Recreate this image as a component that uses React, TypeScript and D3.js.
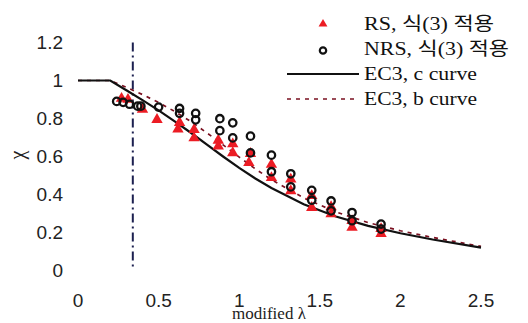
import React from "react";
import * as d3 from "d3";

// ---- data ----
const xTicks = [0, 0.5, 1, 1.5, 2, 2.5];
const xTickLabels = ["0", "0.5", "1", "1.5", "2", "2.5"];
const yTicks = [0, 0.2, 0.4, 0.6, 0.8, 1, 1.2];
const yTickLabels = ["0", "0.2", "0.4", "0.6", "0.8", "1", "1.2"];

const cCurveLambda = [0, 0.2, 0.3, 0.4, 0.5, 0.6, 0.7, 0.8, 0.9, 1.0, 1.1, 1.2, 1.4, 1.6, 1.8, 2.0, 2.2, 2.5];
const cCurveChi = [1, 1, 0.949, 0.897, 0.843, 0.785, 0.725, 0.662, 0.6, 0.54, 0.484, 0.434, 0.349, 0.284, 0.235, 0.196, 0.163, 0.12];

const bCurveLambda = [0, 0.2, 0.3, 0.4, 0.5, 0.6, 0.7, 0.8, 0.9, 1.0, 1.1, 1.2, 1.4, 1.6, 1.8, 2.0, 2.2, 2.5];
const bCurveChi = [1, 1, 0.964, 0.926, 0.884, 0.837, 0.784, 0.724, 0.661, 0.597, 0.535, 0.478, 0.382, 0.308, 0.252, 0.209, 0.174, 0.127];

const rsLambda = [0.27, 0.31, 0.4, 0.49, 0.63, 0.62, 0.72, 0.72, 0.87, 0.87, 0.96, 0.96, 1.06, 1.07, 1.2, 1.2, 1.32, 1.32, 1.45, 1.45, 1.57, 1.57, 1.7, 1.7, 1.88, 1.88];
const rsChi = [0.905, 0.9, 0.848, 0.794, 0.778, 0.743, 0.741, 0.697, 0.685, 0.654, 0.666, 0.619, 0.567, 0.615, 0.558, 0.488, 0.48, 0.419, 0.393, 0.331, 0.335, 0.297, 0.262, 0.227, 0.22, 0.194];

const nrsLambda = [0.24, 0.28, 0.32, 0.37, 0.39, 0.5, 0.63, 0.63, 0.73, 0.73, 0.88, 0.88, 0.96, 0.96, 1.07, 1.07, 1.2, 1.2, 1.32, 1.32, 1.45, 1.45, 1.57, 1.57, 1.7, 1.7, 1.88, 1.88];
const nrsChi = [0.89, 0.885, 0.875, 0.865, 0.865, 0.86, 0.853, 0.827, 0.827, 0.793, 0.799, 0.736, 0.777, 0.698, 0.707, 0.619, 0.607, 0.52, 0.509, 0.44, 0.422, 0.37, 0.366, 0.314, 0.305, 0.262, 0.244, 0.218];

const limitLambda = 0.34;

const legendLabels = ["RS, 식(3) 적용", "NRS, 식(3) 적용", "EC3, c curve", "EC3, b curve"];

const W = 528;
const H = 323;

export default function App() {
  const x = d3.scaleLinear().domain([0, 2.5]).range([78, 481]);
  const y = d3.scaleLinear().domain([0, 1.2]).range([270.5, 42.5]);

  const line = d3
    .line<[number, number]>()
    .x((d) => x(d[0]))
    .y((d) => y(d[1]))
    .curve(d3.curveLinear);

  const cPath = line(cCurveLambda.map((l, i) => [l, cCurveChi[i]]) as [number, number][]) || "";
  const bPath = line(bCurveLambda.map((l, i) => [l, bCurveChi[i]]) as [number, number][]) || "";

  const tri = d3.symbol().type(d3.symbolTriangle).size(56)() || "";
  const triLegend = d3.symbol().type(d3.symbolTriangle).size(34)() || "";

  const sans = "'Liberation Sans', Arial, sans-serif";
  const serif = "'Liberation Serif', 'Times New Roman', 'Noto Sans CJK KR', serif";
  const red = "#ec1c24";
  const ink = "#111";

  const legX = 364;
  const legRows = [30, 55, 80, 105];
  const legWidths = [130, 145, 113, 113];

  return (
    <svg
      width={W}
      height={H}
      viewBox={`0 0 ${W} ${H}`}
      style={{ position: "absolute", left: 0, top: 0, background: "#fff" }}
    >
      <rect x={0} y={0} width={W} height={H} fill="#fff" />

      {/* y tick labels */}
      {yTicks.map((t, i) => (
        <text
          key={"yt" + i}
          x={63}
          y={y(t)}
          dy="0.35em"
          textAnchor="end"
          fontFamily={sans}
          fontSize={19}
          fill="#222"
        >
          {yTickLabels[i]}
        </text>
      ))}

      {/* x tick labels */}
      {xTicks.map((t, i) => (
        <text
          key={"xt" + i}
          x={x(t)}
          y={307}
          textAnchor="middle"
          fontFamily={sans}
          fontSize={19}
          fill="#222"
        >
          {xTickLabels[i]}
        </text>
      ))}

      {/* axis titles */}
      <text x={232} y={319} fontFamily={serif} fontSize={17} fill="#222">
        modified λ
      </text>
      <text
        transform={`translate(17,155) rotate(-90)`}
        textAnchor="middle"
        dy="0.35em"
        fontFamily={serif}
        fontSize={20}
        fill="#222"
      >
        χ
      </text>

      {/* vertical limit line */}
      <line
        x1={x(limitLambda)}
        x2={x(limitLambda)}
        y1={y(1.2)}
        y2={y(0)}
        stroke="#1c2050"
        strokeWidth={2}
        strokeDasharray="9,4,2,4"
      />

      {/* curves */}
      <path d={bPath} fill="none" stroke="#7a1020" strokeWidth={1.7} strokeDasharray="4,5" />
      <path d={cPath} fill="none" stroke={ink} strokeWidth={2.2} />

      {/* RS triangles */}
      {rsLambda.map((l, i) => (
        <path key={"rs" + i} d={tri} transform={`translate(${x(l)},${y(rsChi[i])})`} fill={red} />
      ))}

      {/* NRS circles */}
      {nrsLambda.map((l, i) => (
        <circle
          key={"nrs" + i}
          cx={x(l)}
          cy={y(nrsChi[i])}
          r={3.7}
          fill="none"
          stroke={ink}
          strokeWidth={2.3}
        />
      ))}

      {/* legend */}
      <path d={triLegend} transform={`translate(323,24)`} fill={red} />
      <circle cx={323} cy={50.5} r={3.2} fill="none" stroke={ink} strokeWidth={2.2} />
      <line x1={287} x2={359} y1={74} y2={74} stroke={ink} strokeWidth={2.2} />
      <line x1={287} x2={359} y1={99} y2={99} stroke="#7a1020" strokeWidth={1.7} strokeDasharray="4,5" />
      {legendLabels.map((lab, i) => (
        <text
          key={"lg" + i}
          x={legX}
          y={legRows[i]}
          fontFamily={serif}
          fontSize={18}
          fill="#111"
          textLength={legWidths[i]}
          lengthAdjust="spacingAndGlyphs"
        >
          {lab}
        </text>
      ))}
    </svg>
  );
}
